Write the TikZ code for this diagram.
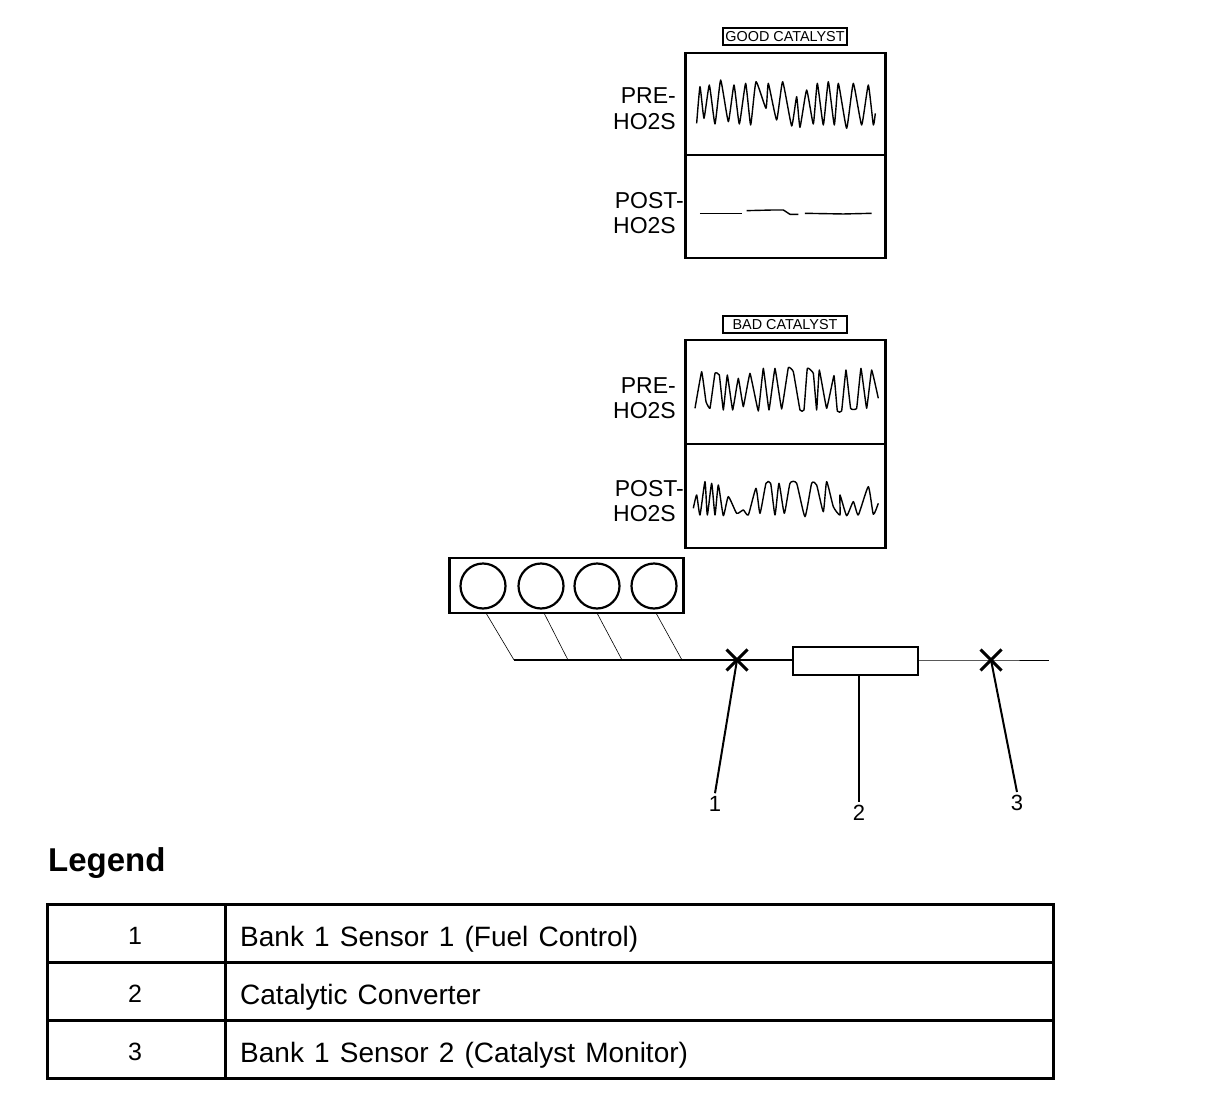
\documentclass[tikz,border=0pt]{standalone}
\usepackage{fontspec}
\setmainfont{Liberation Sans}
\usetikzlibrary{shapes.misc}
\newcommand{\widewords}{\spaceskip=10.2pt\relax}
\tikzset{
  panelbox/.style={draw, line width=2.2pt, minimum width=200pt, inner sep=0pt},
  titlebox/.style={draw, line width=1.2pt, minimum width=124pt, minimum height=17pt, inner sep=0pt, font=\fontsize{14.4}{14.4}\selectfont},
  sidelabel/.style={anchor=east, inner sep=0pt, font=\fontsize{23}{23}\selectfont},
  cylinderhole/.style={circle, draw, line width=2.2pt, minimum size=45pt, inner sep=0pt},
  sensormark/.style={cross out, draw, line width=3pt, minimum size=18pt, inner sep=0pt},
  callout/.style={inner sep=3pt, font=\fontsize{22}{22}\selectfont},
  cellbox/.style={draw, line width=3pt, minimum height=58pt, inner sep=0pt},
  celltext/.style={anchor=base west, inner sep=0pt, font=\fontsize{28}{28}\selectfont},
  wave/.style={line width=1.4pt, line join=round}
}
\begin{document}
\begin{tikzpicture}[x=1pt, y=-1pt]
\useasboundingbox (0,0) rectangle (1216,1108);

% good catalyst
\node[titlebox] (goodtitle) at (785,36.5) {GOOD CATALYST};
\node[panelbox, minimum height=102pt] (goodpre) at (785.5,104) {};
\node[panelbox, minimum height=103pt] (goodpost) at (785.5,206.5) {};
\node[sidelabel] (goodprea) at (676,96) {PRE-};
\node[sidelabel] (goodpreb) at (676,122) {HO2S};
\node[sidelabel] (goodposta) at (684,201) {POST-};
\node[sidelabel] (goodpostb) at (676,226) {HO2S};

\begin{scope}[shift={(600,20)}, x=0.3333pt, y=-0.3333pt]
\draw[wave] plot[smooth, tension=.25] coordinates {(290,310) (300,200) (312,295) (328,195) (345,312) (362,180) (385,305) (402,195) (418,312) (437,190) (452,315) (468,185) (498,265) (505,190) (530,300) (548,185) (575,318) (590,230) (600,322) (620,210) (640,312) (652,190) (670,315) (685,185) (703,315) (715,190) (740,325) (760,190) (785,315) (805,195) (820,315) (826,280)};
\draw[wave] (300,580) -- (425,580);
\draw[wave] (440,572) -- (520,570) -- (550,570) -- (570,583) -- (595,583);
\draw[wave] (615,580) -- (730,582) -- (815,580);
\end{scope}

% bad catalyst
\node[titlebox] (badtitle) at (785,324.5) {BAD CATALYST};
\node[panelbox, minimum height=104pt] (badpre) at (785.5,392) {};
\node[panelbox, minimum height=104pt] (badpost) at (785.5,496) {};
\node[sidelabel] (badprea) at (676,386) {PRE-};
\node[sidelabel] (badpreb) at (676,411) {HO2S};
\node[sidelabel] (badposta) at (684,489) {POST-};
\node[sidelabel] (badpostb) at (676,514) {HO2S};

\begin{scope}[shift={(600,305)}, x=0.3333pt, y=-0.3333pt]
\draw[wave] plot[smooth, tension=.15] coordinates {(285,310) (305,200) (318,290) (330,310) (345,205) (358,210) (370,315) (382,210) (398,315) (415,220) (430,305) (450,205) (475,318) (490,190) (507,315) (525,190) (545,312) (565,188) (580,200) (600,315) (612,315) (622,190) (640,205) (650,315) (658,195) (680,310) (702,212) (712,318) (725,318) (738,195) (752,310) (770,310) (783,190) (800,310) (815,195) (835,280)};
\draw[wave] plot[smooth, tension=.3] coordinates {(280,610) (290,570) (300,630) (315,530) (322,630) (335,535) (345,630) (355,540) (370,632) (385,575) (410,625) (430,615) (445,630) (468,550) (480,625) (498,535) (512,535) (525,630) (537,535) (553,625) (570,535) (590,535) (615,635) (635,535) (650,540) (670,620) (680,530) (700,605) (720,630) (720,570) (740,632) (760,590) (775,630) (805,545) (820,628) (835,595)};
\end{scope}

% engine
\node[draw, line width=2.2pt, minimum width=234pt, minimum height=55pt, inner sep=0pt] (engine) at (566.5,585.5) {};
\foreach \n/\cx in {1/483, 2/541, 3/597, 4/654}{
  \node[cylinderhole] (cyl\n) at (\cx,586) {};
}
\coordinate (runa) at (486,613);
\coordinate (runb) at (544,613);
\coordinate (runc) at (597,613);
\coordinate (rund) at (656,613);
\coordinate (joina) at (514,660);
\coordinate (joinb) at (568,660);
\coordinate (joinc) at (622,660);
\coordinate (joind) at (682,660);
\coordinate (tailend) at (1049,660);
\node[sensormark] (sensora) at (737,660) {};
\node[sensormark] (sensorb) at (991,660) {};
\node[draw, line width=2.4pt, minimum width=125pt, minimum height=28pt, inner sep=0pt] (converter) at (855.5,661) {};
\draw[line width=.6pt] (runa) -- (joina);
\draw[line width=.6pt] (runb) -- (joinb);
\draw[line width=.6pt] (runc) -- (joinc);
\draw[line width=.6pt] (rund) -- (joind);
\draw[line width=1.4pt] (joina) -- (sensora.center) -- (sensora.center -| converter.west);
\draw[line width=.8pt] (sensorb.center -| converter.east) -- (sensorb.center) -- (tailend);

\node[callout] (numa) at (715,804) {1};
\node[callout] (numb) at (859,813) {2};
\node[callout] (numc) at (1017,803) {3};
\draw[line width=2pt] (sensora.center) -- (numa.north);
\draw[line width=2pt] (converter.south -| numb) -- (numb.north);
\draw[line width=2pt] (sensorb.center) -- (numc.north);

% legend
\node[anchor=base west, inner sep=0pt, font=\bfseries\fontsize{33}{33}\selectfont] (legend) at (48,871) {Legend};
\foreach \r/\ry/\txt in {1/933/Bank 1 Sensor 1 (Fuel Control), 2/991/Catalytic Converter, 3/1049/Bank 1 Sensor 2 (Catalyst Monitor)}{
  \node[cellbox, minimum width=178pt] (numcell\r) at (136,\ry) {};
  \node[cellbox, minimum width=828pt] (textcell\r) at (639,\ry) {};
  \node[inner sep=0pt, font=\fontsize{25}{25}\selectfont] (num\r) at (135,\ry+3) {\r};
  \node[celltext] (txt\r) at (240,\ry+13) {\widewords\txt};
}
\end{tikzpicture}
\end{document}
